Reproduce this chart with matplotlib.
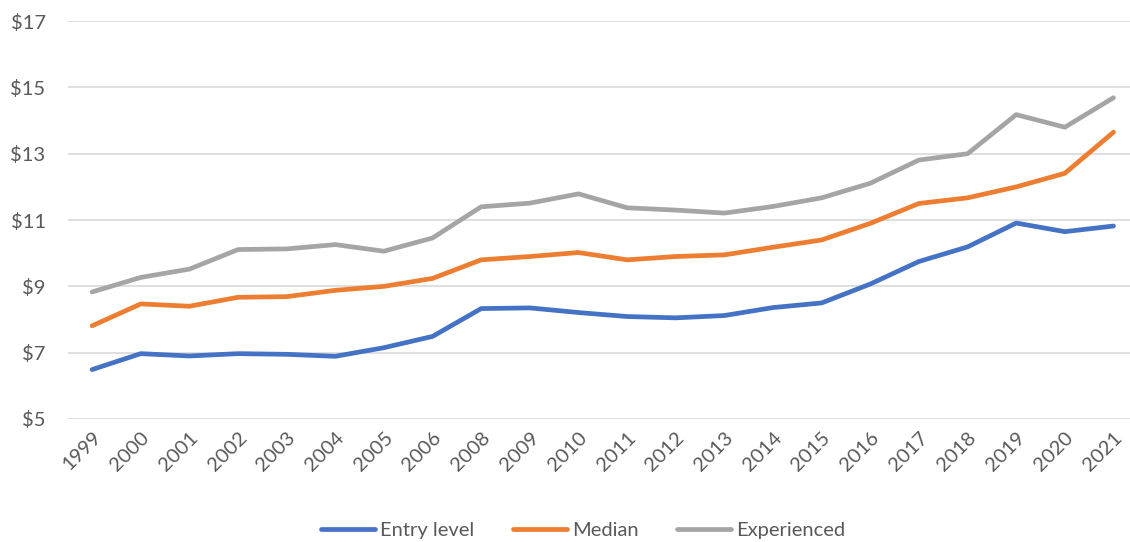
import matplotlib
matplotlib.use("Agg")
import matplotlib.pyplot as plt
import numpy as np

# Hourly wage by experience level
years = ["1999", "2000", "2001", "2002", "2003", "2004", "2005", "2006",
         "2008", "2009", "2010", "2011", "2012", "2013", "2014", "2015",
         "2016", "2017", "2018", "2019", "2020", "2021"]
entry_level = [6.49, 6.97, 6.90, 6.97, 6.95, 6.89, 7.15, 7.49,
               8.33, 8.35, 8.21, 8.09, 8.05, 8.12, 8.36, 8.50,
               9.07, 9.75, 10.19, 10.91, 10.65, 10.82]
median = [7.81, 8.47, 8.40, 8.67, 8.69, 8.88, 9.00, 9.24,
          9.80, 9.90, 10.02, 9.80, 9.90, 9.95, 10.18, 10.40,
          10.90, 11.50, 11.67, 12.00, 12.41, 13.65]
experienced = [8.83, 9.27, 9.52, 10.11, 10.13, 10.26, 10.06, 10.46,
               11.40, 11.51, 11.79, 11.37, 11.30, 11.21, 11.41, 11.67,
               12.11, 12.81, 13.00, 14.18, 13.80, 14.69]
y_ticks = [5, 7, 9, 11, 13, 15, 17]

plt.rcParams['font.family'] = ['Lato', 'DejaVu Sans']
text_color = '#595959'

fig = plt.figure(figsize=(11.30, 5.42), dpi=100)
ax = fig.add_axes([0.060, 0.227, 0.940, 0.734])

x = np.arange(len(years))
ax.plot(x, entry_level, color='#4472C4', lw=3.4, label='Entry level',
        solid_capstyle='round', solid_joinstyle='round')
ax.plot(x, median, color='#ED7D31', lw=3.4, label='Median',
        solid_capstyle='round', solid_joinstyle='round')
ax.plot(x, experienced, color='#A5A5A5', lw=3.4, label='Experienced',
        solid_capstyle='round', solid_joinstyle='round')

ax.set_ylim(5, 17)
ax.set_xlim(-0.5, 21.34)
ax.set_yticks(y_ticks)
ax.set_yticklabels([f"${v}" for v in y_ticks])
ax.set_xticks(x)
ax.set_xticklabels(years, rotation=45, ha='right', rotation_mode='anchor')

ax.grid(axis='y', color='#d9d9d9', lw=1.2)
ax.set_axisbelow(True)
for s in ax.spines.values():
    s.set_visible(False)
ax.tick_params(axis='both', length=0, colors=text_color, labelsize=14.5)
ax.tick_params(axis='x', pad=7)
ax.tick_params(axis='y', pad=16)

fig.legend(loc='center', bbox_to_anchor=(0.516, 0.022), ncol=3, frameon=False,
           fontsize=14.5, handlelength=2.7, columnspacing=1.9, handletextpad=0.25,
           labelcolor=text_color)

fig.savefig("out.png", dpi=100)
